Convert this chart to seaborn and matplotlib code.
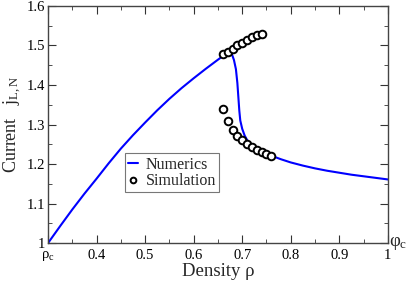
"""Current vs density: numerics curve and simulation points."""

import matplotlib
matplotlib.use("Agg")
import matplotlib.pyplot as plt
import pandas as pd
import seaborn as sns
from matplotlib.ticker import MultipleLocator

# Numerics curve
num_rho = [0.300, 0.325, 0.350, 0.375, 0.400, 0.425, 0.450, 0.475, 0.500,
           0.525, 0.550, 0.575, 0.600, 0.625, 0.650, 0.660, 0.668, 0.674,
           0.679, 0.683, 0.687, 0.690, 0.692, 0.694, 0.696, 0.700, 0.705,
           0.710, 0.715, 0.720, 0.730, 0.740, 0.750, 0.760, 0.780, 0.800,
           0.825, 0.850, 0.875, 0.900, 0.925, 0.950, 0.975, 1.000]
num_j = [1.000, 1.043, 1.085, 1.125, 1.163, 1.202, 1.239, 1.273, 1.305,
         1.336, 1.365, 1.392, 1.417, 1.441, 1.464, 1.473, 1.479, 1.482,
         1.477, 1.463, 1.440, 1.405, 1.370, 1.335, 1.310, 1.289, 1.272,
         1.261, 1.253, 1.246, 1.238, 1.231, 1.226, 1.221, 1.212, 1.204,
         1.196, 1.189, 1.183, 1.178, 1.173, 1.169, 1.165, 1.161]

# Simulation points: upper and lower branch
sim_rho_up = [0.66, 0.67, 0.68, 0.69, 0.70, 0.71, 0.72, 0.73, 0.74]
sim_j_up = [1.478, 1.484, 1.492, 1.500, 1.506, 1.514, 1.521, 1.527, 1.530]
sim_rho_low = [0.66, 0.67, 0.68, 0.69, 0.70, 0.71, 0.72, 0.73, 0.74, 0.75, 0.76]
sim_j_low = [1.339, 1.308, 1.286, 1.270, 1.260, 1.251, 1.243, 1.236, 1.230,
             1.225, 1.220]

x_ticks = [0.3, 0.4, 0.5, 0.6, 0.7, 0.8, 0.9, 1.0]
x_tick_labels = [r"$\mathregular{ρ_c}$", "0.4", "0.5", "0.6", "0.7", "0.8",
                 "0.9", "1"]
y_ticks = [1.0, 1.1, 1.2, 1.3, 1.4, 1.5, 1.6]
y_tick_labels = ["1", "1.1", "1.2", "1.3", "1.4", "1.5", "1.6"]

sns.set_style("ticks")
plt.rcParams["font.family"] = ["Liberation Serif", "DejaVu Serif"]
plt.rcParams["mathtext.fontset"] = "stix"

numerics = pd.DataFrame({"rho": num_rho, "j": num_j})
simulation = pd.DataFrame({"rho": sim_rho_up + sim_rho_low,
                           "j": sim_j_up + sim_j_low})

fig = plt.figure(figsize=(4.07, 2.82), dpi=100)
ax = fig.add_axes([0.118, 0.138, 0.835, 0.841])

sns.lineplot(data=numerics, x="rho", y="j", ax=ax, color="#0000ff",
             linewidth=1.5, sort=False, label="Numerics")
sns.scatterplot(data=simulation, x="rho", y="j", ax=ax, marker="o", s=30,
                facecolor="white", edgecolor="black", linewidth=1.4,
                label="Simulation", zorder=3)

ax.set_xlim(0.3, 1.0)
ax.set_ylim(1.0, 1.6)
ax.set_xticks(x_ticks)
ax.set_xticklabels(x_tick_labels)
ax.set_yticks(y_ticks)
ax.set_yticklabels(y_tick_labels)
ax.xaxis.set_minor_locator(MultipleLocator(0.05))
ax.yaxis.set_minor_locator(MultipleLocator(0.05))
ax.tick_params(which="both", direction="in", top=True, right=True,
               labelsize=10.5, colors="#333333", labelcolor="black", pad=2)
ax.tick_params(axis="x", which="major", pad=4)
ax.tick_params(which="major", length=6)
ax.tick_params(which="minor", length=3)
for spine in ax.spines.values():
    spine.set_color("#444444")
    spine.set_linewidth(1.0)

ax.set_xlabel("Density ρ", fontsize=13.5, labelpad=0)
ax.set_ylabel(r"Current   $\mathregular{j_{L,N}}$", fontsize=13, labelpad=2)
ax.text(1.003, 1.0, r"$\mathregular{φ_c}$", transform=ax.transData,
        fontsize=13.5, ha="left", va="center", clip_on=False)

leg = ax.legend(loc="lower left", bbox_to_anchor=(0.2265, 0.216),
                fontsize=11.5, frameon=True, fancybox=False,
                handlelength=0.6, handletextpad=0.5, borderpad=0.2,
                labelspacing=0.0, borderaxespad=0, markerscale=0.75)
leg.get_frame().set_edgecolor("#555555")
leg.get_frame().set_linewidth(0.8)

fig.savefig("out.png", dpi=100)
